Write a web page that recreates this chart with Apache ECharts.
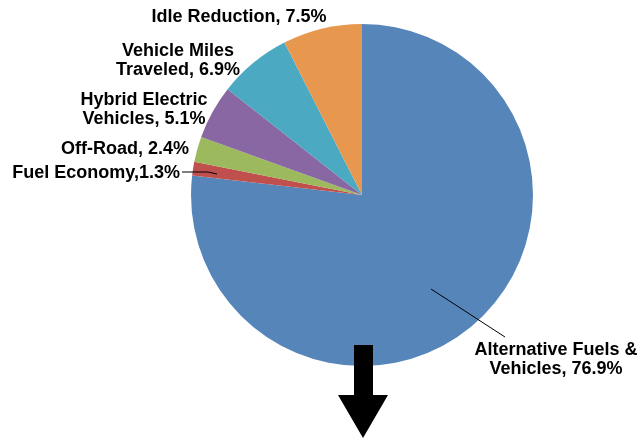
<!DOCTYPE html>
<html>
<head>
<meta charset="utf-8">
<script src="https://cdn.jsdelivr.net/npm/echarts@6/dist/echarts.min.js"></script>
<style>
  html, body { margin: 0; padding: 0; background: #fff; }
  #chart { width: 642px; height: 440px; }
</style>
</head>
<body>
<div id="chart"></div>
<script>
// slices, clockwise from 12 o'clock
const categories = [
  "Alternative Fuels & Vehicles",
  "Fuel Economy",
  "Off-Road",
  "Hybrid Electric Vehicles",
  "Vehicle Miles Traveled",
  "Idle Reduction"
];
const values = [76.9, 1.3, 2.4, 5.1, 6.9, 7.5];
const labelTexts = [
  "Alternative Fuels &\nVehicles, 76.9%",
  "Fuel Economy,1.3%",
  "Off-Road, 2.4%",
  "Hybrid Electric\nVehicles, 5.1%",
  "Vehicle Miles\nTraveled, 6.9%",
  "Idle Reduction, 7.5%"
];
const colors = ["#5686B9", "#C0504D", "#9CB95D", "#8867A3", "#4BA9C1", "#E8984E"];

// where each label sits (hand placed like the original)
const labelSpots = [
  { x: 556, y: 360, align: "center" },
  { x: 180, y: 173, align: "right" },
  { x: 125, y: 149, align: "center" },
  { x: 144, y: 110, align: "center" },
  { x: 178, y: 61, align: "center" },
  { x: 239, y: 17, align: "center" }
];
// leader lines, drawn by hand (they start inside the slices)
const leaders = [
  [[431, 289], [505, 337]],
  [[182, 172], [208, 172], [217, 174]]
];

const chart = echarts.init(document.getElementById("chart"));

const option = {
  animation: false,
  series: [
    {
      type: "pie",
      center: [362, 195],
      radius: [0, 171],
      startAngle: 90,
      clockwise: true,
      silent: true,
      data: categories.map((name, i) => ({
        name: name,
        value: values[i],
        itemStyle: { color: colors[i] }
      })),
      label: {
        show: true,
        position: "outside",
        formatter: (p) => labelTexts[p.dataIndex],
        fontFamily: "Liberation Sans",
        fontWeight: "bold",
        fontSize: 18,
        lineHeight: 19,
        color: "#000",
        overflow: "none",
        width: 300
      },
      labelLine: { show: false },
      labelLayout: (params) => {
        const s = labelSpots[params.dataIndex];
        return {
          x: s.x,
          y: s.y,
          align: s.align,
          verticalAlign: "middle"
        };
      }
    }
  ],
  graphic: leaders.map((pts) => ({
    type: "polyline",
    z: 50,
    shape: { points: pts },
    style: { stroke: "#000", lineWidth: 1, fill: null }
  })).concat([
    {
      type: "polygon",
      z: 100,
      shape: {
        points: [[354, 345], [373, 345], [373, 395], [388, 395], [363, 438], [338, 395], [354, 395]]
      },
      style: { fill: "#000" }
    }
  ])
};

chart.setOption(option);
</script>
</body>
</html>
